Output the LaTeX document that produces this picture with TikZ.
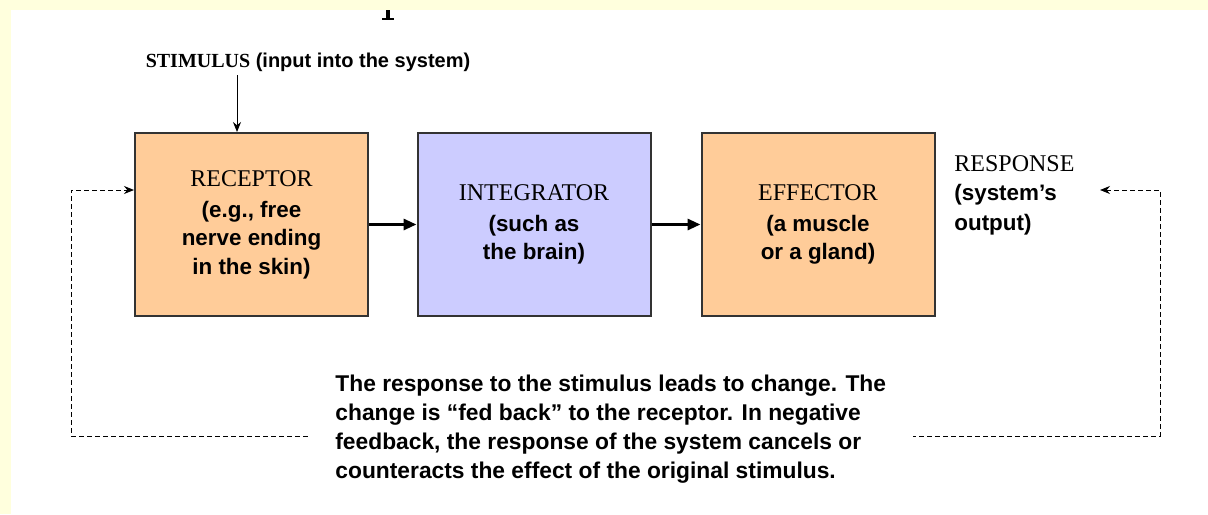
\documentclass[tikz,border=0pt]{standalone}
\usepackage{fontspec}
\setmainfont{Liberation Serif}
\setsansfont{Liberation Sans}
\usetikzlibrary{arrows.meta}
\definecolor{pageyellow}{RGB}{255,255,221}
\definecolor{peach}{RGB}{255,204,153}
\definecolor{lavender}{RGB}{204,204,255}
\definecolor{edgegray}{RGB}{51,51,51}
\tikzset{
    organ/.style={draw=edgegray,line width=1pt,minimum width=116.5pt,
        minimum height=91.5pt,inner sep=0pt,align=center,
        font=\sffamily\bfseries\fontsize{11.2}{14.25}\selectfont},
    flow/.style={-{Triangle[length=6.5pt,width=5.5pt]},line width=1.5pt},
    loopline/.style={dash pattern=on 2.5pt off 1.5pt,line width=0.5pt},
}
\newcommand{\capsrm}[1]{{\rmfamily\mdseries\fontsize{12}{14.25}\selectfont #1}}
\begin{document}
\begin{tikzpicture}[x=0.5pt,y=-0.5pt,>={Stealth[length=5pt,width=4pt]}]
    \useasboundingbox (0,0) rectangle (1208,514);
    \fill[pageyellow] (0,0) rectangle (1208,514);
    \fill[white] (11,10) rectangle (1208,514);
    % cut-off glyph at the top edge
    \fill (386,10) rectangle (390,18);
    \fill (382,18) rectangle (394,20);

    \node[organ,fill=peach] (receptor) at (251.5,224.5)
        {\capsrm{RECEPTOR}\\[1.25pt] (e.g., free\\ nerve ending\\ in the skin)};
    \node[organ,fill=lavender] (integrator) at (534,224.5)
        {\capsrm{INTEGRATOR}\\[1.25pt] (such as\\ the brain)};
    \node[organ,fill=peach] (effector) at (818,224.5)
        {\capsrm{EFFECTOR}\\[1.25pt] (a muscle\\ or a gland)};

    \node[font=\sffamily\bfseries\fontsize{10}{12}\selectfont] (stim) at (308,62)
        {{\rmfamily STIMULUS} (input into the system)};
    \coordinate (stimfoot) at (237,75);
    \draw[->,line width=0.5pt] (stimfoot) -- (stimfoot |- receptor.north);

    \node[anchor=west,inner sep=0pt,align=left,
        font=\sffamily\bfseries\fontsize{11.2}{14.75}\selectfont] (response) at (954,195)
        {\capsrm{RESPONSE}\\ (system’s\\ output)};

    \draw[flow] (receptor) -- (integrator);
    \draw[flow] (integrator) -- (effector);

    % feedback loop
    \coordinate (resptip) at (1100,190);
    \coordinate (rtop) at (1160,190);
    \coordinate (rbot) at (1160,436);
    \coordinate (lbot) at (71,436);
    \coordinate (ltop) at (71,190);
    \draw[loopline,<->] (resptip) -- (rtop) -- (rbot) -- (lbot) -- (ltop)
        -- (ltop -| receptor.west);

    \node[anchor=west,fill=white,inner xsep=13.5pt,inner ysep=2pt,align=left,
        font=\sffamily\bfseries\fontsize{11.4}{14.4}\selectfont] (note) at (308,429)
        {The response to the stimulus leads to change. The\\
         change is “fed back” to the receptor. In negative\\
         feedback, the response of the system cancels or\\
         counteracts the effect of the original stimulus.};
\end{tikzpicture}
\end{document}
